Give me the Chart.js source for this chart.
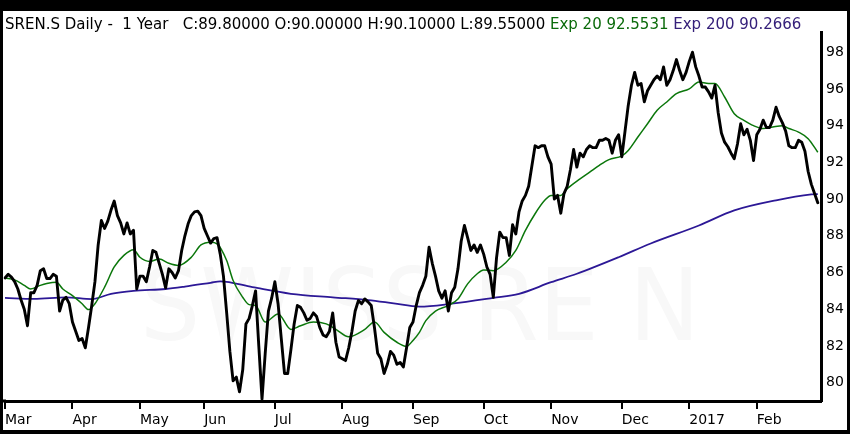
<!DOCTYPE html>
<html>
<head>
<meta charset="utf-8">
<script src="https://cdn.jsdelivr.net/npm/chart.js@4/dist/chart.umd.min.js"></script>
<style>
  html,body{margin:0;padding:0;background:#fff;}
  canvas{display:block;}
</style>
</head>
<body>
<canvas id="c" width="850" height="434" style="width:850px;height:434px"></canvas>
<script>
// ---- Categories (trading days per month) ----
const monthLabels = ['Mar','Apr','May','Jun','Jul','Aug','Sep','Oct','Nov','Dec','2017','Feb'];
const monthDays   = [21,21,20,22,21,22,22,21,22,21,21,20];

// ---- Price series (daily close), one array per month ----
const pMar = [85.7,85.9,85.75,85.5,85.1,84.5,84.0,83.1,84.9,84.9,85.3,86.1,86.2,85.67,85.67,85.9,85.8,83.9,84.5,84.65,84.3];
const pApr = [83.3,82.8,82.3,82.4,81.9,83.0,84.2,85.5,87.5,88.83,88.4,88.8,89.4,89.89,89.1,88.7,88.1,88.7,88.1,88.3,85.1];
const pMay = [85.8,85.8,85.5,86.3,87.2,87.1,86.5,85.9,85.16,86.2,86.0,85.7,86.1,87.2,88.0,88.65,89.1,89.3,89.34,89.1];
const pJun = [88.4,88.0,87.6,87.85,87.9,87.0,85.8,83.8,81.7,80.1,80.3,79.5,80.7,83.2,83.5,84.2,85.0,82.0,79.1,81.6,83.9,84.6];
const pJul = [85.5,84.3,82.4,80.5,80.5,81.8,83.2,84.2,84.1,83.8,83.4,83.5,83.8,83.6,83.0,82.6,82.5,82.8,83.8,82.2,81.4];
const pAug = [81.3,81.2,81.9,82.8,83.9,84.47,84.3,84.56,84.4,84.2,83.0,81.6,81.3,80.5,81.0,81.7,81.5,81.0,81.1,80.85,81.9,83.0];
const pSep = [83.3,84.2,84.9,85.3,85.8,87.38,86.5,85.8,85.0,84.6,85.0,83.9,84.9,85.2,86.2,87.7,88.56,87.9,87.2,87.5,87.1,87.5];
const pOct = [87.0,86.3,85.9,84.65,86.8,88.2,87.9,87.9,86.93,88.6,88.1,89.3,89.9,90.2,90.7,91.8,92.9,92.8,92.9,92.9,92.3];
const pNov = [91.9,90.0,90.2,89.23,90.3,90.7,91.6,92.7,91.74,92.5,92.3,92.7,92.9,92.8,92.8,93.2,93.2,93.3,93.2,92.5,93.2,93.5];
const pDec = [92.3,93.7,95.1,96.2,96.9,96.2,96.3,95.3,95.9,96.2,96.5,96.7,96.5,97.2,96.2,96.5,97.0,97.6,97.0,96.5,96.9];
const pJan = [97.5,98.0,97.2,96.7,96.1,96.1,95.84,95.5,96.2,94.7,93.6,93.1,92.85,92.5,92.2,93.0,94.1,93.5,93.8,93.2,92.1];
const pFeb = [93.5,93.8,94.3,93.9,93.9,94.3,95.0,94.5,94.15,93.7,92.9,92.8,92.8,93.2,93.1,92.6,91.5,90.8,90.3,89.8];

// ---- Exp 20 readings [trading-day index, value] ----
const ema20Points = [[0,85.7],[3,85.6],[6,85.3],[8,85.1],[11,85.3],[13,85.4],[16,85.47],[18,85.1],[21,84.74],[24,84.3],[26,83.98],[28,84.3],[31,85.2],[34,86.3],[37,86.93],[40,87.24],[42,86.83],[45,86.6],[48,86.74],[51,86.5],[54,86.38],[58,86.83],[61,87.5],[64,87.65],[66,87.56],[69,86.65],[71,85.56],[74,84.65],[76,84.25],[78,84.2],[81,83.3],[85,83.74],[89,82.9],[92,83.1],[96,83.3],[100,83.2],[103,82.9],[107,82.5],[112,82.9],[115,83.3],[118,82.74],[122,82.2],[125,81.98],[127,82.3],[129,82.74],[131,83.38],[134,83.9],[138,84.2],[141,84.56],[144,85.38],[147,85.93],[149,86.14],[152,86.1],[156,86.56],[159,87.2],[162,88.29],[165,89.2],[168,89.93],[170,90.2],[173,90.2],[175,90.56],[179,91.1],[182,91.47],[185,91.84],[188,92.15],[192,92.35],[194,92.65],[197,93.38],[200,94.1],[203,94.84],[206,95.29],[209,95.74],[213,96.0],[216,96.38],[219,96.3],[221,96.3],[224,95.56],[227,94.65],[230,94.29],[233,94.0],[236,93.84],[239,93.93],[242,94.0],[244,93.84],[247,93.65],[250,93.29],[253,92.55]];

// ---- Exp 200 readings [trading-day index, value] ----
const ema200Points = [[0,84.62],[9,84.56],[19,84.65],[27,84.55],[33,84.84],[40,85.0],[50,85.1],[56,85.23],[64,85.44],[67,85.52],[77,85.2],[89,84.84],[102,84.65],[113,84.5],[121,84.32],[129,84.14],[139,84.3],[152,84.62],[160,84.84],[170,85.47],[178,85.93],[191,86.83],[201,87.58],[216,88.56],[227,89.38],[240,89.93],[251,90.25],[253,90.27]];

// ---- Tick labels ----
const yTicks = [80,82,84,86,88,90,92,94,96,98];
const titleMain  = 'SREN.S Daily -  1 Year   C:89.80000 O:90.00000 H:90.10000 L:89.55000 ';
const titleEma20 = 'Exp 20 92.5531 ';
const titleEma200 = 'Exp 200 90.2666';
const watermark = 'SWISS RE N';

// ---- Build library structures ----
const price = [].concat(pMar,pApr,pMay,pJun,pJul,pAug,pSep,pOct,pNov,pDec,pJan,pFeb);
const labels = [];
const monthStartIdx = [];
const monthLabelByIdx = {};
monthLabels.forEach((m, mi) => {
  monthStartIdx.push(labels.length);
  monthLabelByIdx[labels.length] = m;
  for (let k = 0; k < monthDays[mi]; k++) labels.push(m + ' ' + (k + 1));
});
labels.push('');
function sparse(points) {
  const arr = new Array(labels.length).fill(null);
  points.forEach(([i, v]) => { arr[i] = v; });
  return arr;
}
const ema20 = sparse(ema20Points);
const ema200 = sparse(ema200Points);

const FONT = '"DejaVu Sans", Verdana, sans-serif';

const framePlugin = {
  id: 'frame',
  beforeDraw(chart) {
    const ctx = chart.ctx;
    ctx.save();
    ctx.fillStyle = '#fff';
    ctx.fillRect(0, 0, chart.width, chart.height);
    ctx.restore();
  },
  beforeDatasetsDraw(chart) {
    const {ctx, chartArea} = chart;
    ctx.save();
    ctx.beginPath();
    ctx.rect(chartArea.left, chartArea.top, chartArea.right - chartArea.left, chartArea.bottom - chartArea.top);
    ctx.clip();
    ctx.font = '100px ' + FONT;
    const w = ctx.measureText(watermark).width;
    ctx.translate(140, 340);
    ctx.scale(560 / w, 1);
    ctx.fillStyle = '#f8f8f8';
    ctx.fillText(watermark, 0, 0);
    ctx.restore();
  },
  afterDraw(chart) {
    const ctx = chart.ctx;
    const W = chart.width, H = chart.height;
    ctx.save();
    ctx.fillStyle = '#000';
    ctx.fillRect(0, 0, W, 11);
    ctx.fillRect(0, 0, 3, H);
    ctx.fillRect(W - 3, 0, 3, H);
    ctx.fillRect(0, H - 4, W, 4);
    const xb = chart.scales.x.top;
    ctx.fillRect(3, xb - 1.5, chart.chartArea.left - 2, 3);
    ctx.font = '15px ' + FONT;
    ctx.textBaseline = 'alphabetic';
    const segs = [[titleMain, '#000'], [titleEma20, '#0a6a0a'], [titleEma200, '#35207a']];
    const total = segs.reduce((a, s) => a + ctx.measureText(s[0]).width, 0);
    const sx = Math.min(1, 798 / total);
    ctx.translate(5, 29);
    ctx.scale(sx, 1);
    let x = 0;
    segs.forEach(([t, c]) => {
      ctx.fillStyle = c;
      ctx.fillText(t, x, 0);
      x += ctx.measureText(t).width;
    });
    ctx.restore();
  }
};

new Chart(document.getElementById('c'), {
  type: 'line',
  data: {
    labels: labels,
    datasets: [
      {
        label: 'SREN.S',
        data: price,
        borderColor: '#000',
        borderWidth: 2.9,
        pointRadius: 0,
        tension: 0,
        borderJoinStyle: 'round',
        borderCapStyle: 'round'
      },
      {
        label: 'Exp 20',
        data: ema20,
        borderColor: '#0b770b',
        borderWidth: 1.5,
        pointRadius: 0,
        spanGaps: true,
        cubicInterpolationMode: 'monotone'
      },
      {
        label: 'Exp 200',
        data: ema200,
        borderColor: '#2c1896',
        borderWidth: 1.8,
        pointRadius: 0,
        spanGaps: true,
        cubicInterpolationMode: 'monotone'
      }
    ]
  },
  options: {
    responsive: false,
    animation: false,
    events: [],
    layout: { padding: { left: 5, top: 32, right: 0, bottom: 0 } },
    plugins: { legend: { display: false }, tooltip: { enabled: false }, title: { display: false } },
    scales: {
      x: {
        type: 'category',
        offset: false,
        afterBuildTicks: s => { s.ticks = monthStartIdx.map(v => ({ value: v })); },
        afterFit: s => { s.height = 33; },
        ticks: {
          autoSkip: false, maxRotation: 0, minRotation: 0, align: 'start',
          color: '#000', padding: 3,
          font: { family: FONT, size: 14 },
          callback: v => monthLabelByIdx[v] || ''
        },
        grid: { display: true, drawOnChartArea: false, drawTicks: true, tickLength: 8, color: '#000', lineWidth: 2 },
        border: { display: true, color: '#000', width: 3 }
      },
      y: {
        position: 'right',
        min: 79,
        max: 99.1,
        afterBuildTicks: s => { s.ticks = yTicks.map(v => ({ value: v })); },
        afterFit: s => { s.width = 29; },
        ticks: { color: '#000', padding: 5, font: { family: FONT, size: 14 } },
        grid: { display: false, drawTicks: false },
        border: { display: true, color: '#000', width: 3 }
      }
    }
  },
  plugins: [framePlugin]
});
</script>
</body>
</html>
